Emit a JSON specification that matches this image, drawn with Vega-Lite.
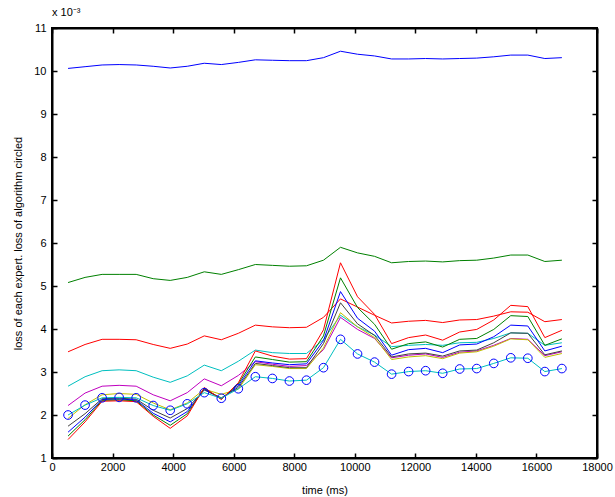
{
  "$schema": "https://vega.github.io/schema/vega-lite/v6.json",
  "width": 545,
  "height": 430,
  "autosize": {"type": "none"},
  "padding": {"left": 52, "top": 28, "right": 18, "bottom": 39},
  "background": "white",
  "title": {"text": "x 10⁻³", "anchor": "start", "frame": "group", "fontSize": 11, "fontWeight": "normal", "font": "Liberation Sans", "color": "black", "offset": 4},
  "config": {
    "view": {"stroke": "#000000", "strokeWidth": 2},
    "axis": {"grid": false, "domain": true, "ticks": true, "domainColor": "#000000", "tickColor": "#000000", "labelColor": "black", "titleColor": "black", "labelFont": "Liberation Sans", "titleFont": "Liberation Sans", "labelFontSize": 11, "titleFontSize": 11, "titleFontWeight": "normal", "tickSize": -5, "domainWidth": 2, "tickWidth": 1.5}
  },
  "datasets": {
    "d": [
      {"t":530,"s":"s01","v":10.06},{"t":1092,"s":"s01","v":10.10},{"t":1655,"s":"s01","v":10.14},{"t":2217,"s":"s01","v":10.15},{"t":2780,"s":"s01","v":10.14},{"t":3342,"s":"s01","v":10.11},{"t":3904,"s":"s01","v":10.07},{"t":4467,"s":"s01","v":10.11},{"t":5029,"s":"s01","v":10.18},{"t":5592,"s":"s01","v":10.15},{"t":6154,"s":"s01","v":10.20},{"t":6716,"s":"s01","v":10.26},{"t":7279,"s":"s01","v":10.25},{"t":7841,"s":"s01","v":10.24},{"t":8404,"s":"s01","v":10.24},{"t":8966,"s":"s01","v":10.31},{"t":9528,"s":"s01","v":10.46},{"t":10091,"s":"s01","v":10.39},{"t":10653,"s":"s01","v":10.35},{"t":11216,"s":"s01","v":10.28},{"t":11778,"s":"s01","v":10.28},{"t":12340,"s":"s01","v":10.29},{"t":12903,"s":"s01","v":10.28},{"t":13465,"s":"s01","v":10.29},{"t":14028,"s":"s01","v":10.30},{"t":14590,"s":"s01","v":10.33},{"t":15152,"s":"s01","v":10.37},{"t":15715,"s":"s01","v":10.37},{"t":16277,"s":"s01","v":10.29},{"t":16840,"s":"s01","v":10.31},
      {"t":530,"s":"s02","v":5.08},{"t":1092,"s":"s02","v":5.20},{"t":1655,"s":"s02","v":5.27},{"t":2217,"s":"s02","v":5.27},{"t":2780,"s":"s02","v":5.27},{"t":3342,"s":"s02","v":5.17},{"t":3904,"s":"s02","v":5.13},{"t":4467,"s":"s02","v":5.20},{"t":5029,"s":"s02","v":5.33},{"t":5592,"s":"s02","v":5.27},{"t":6154,"s":"s02","v":5.38},{"t":6716,"s":"s02","v":5.50},{"t":7279,"s":"s02","v":5.48},{"t":7841,"s":"s02","v":5.46},{"t":8404,"s":"s02","v":5.47},{"t":8966,"s":"s02","v":5.60},{"t":9528,"s":"s02","v":5.90},{"t":10091,"s":"s02","v":5.77},{"t":10653,"s":"s02","v":5.69},{"t":11216,"s":"s02","v":5.54},{"t":11778,"s":"s02","v":5.57},{"t":12340,"s":"s02","v":5.58},{"t":12903,"s":"s02","v":5.56},{"t":13465,"s":"s02","v":5.59},{"t":14028,"s":"s02","v":5.60},{"t":14590,"s":"s02","v":5.65},{"t":15152,"s":"s02","v":5.72},{"t":15715,"s":"s02","v":5.72},{"t":16277,"s":"s02","v":5.57},{"t":16840,"s":"s02","v":5.60},
      {"t":530,"s":"s03","v":3.47},{"t":1092,"s":"s03","v":3.64},{"t":1655,"s":"s03","v":3.76},{"t":2217,"s":"s03","v":3.76},{"t":2780,"s":"s03","v":3.75},{"t":3342,"s":"s03","v":3.64},{"t":3904,"s":"s03","v":3.55},{"t":4467,"s":"s03","v":3.65},{"t":5029,"s":"s03","v":3.84},{"t":5592,"s":"s03","v":3.75},{"t":6154,"s":"s03","v":3.90},{"t":6716,"s":"s03","v":4.09},{"t":7279,"s":"s03","v":4.05},{"t":7841,"s":"s03","v":4.03},{"t":8404,"s":"s03","v":4.04},{"t":8966,"s":"s03","v":4.27},{"t":9528,"s":"s03","v":4.70},{"t":10091,"s":"s03","v":4.51},{"t":10653,"s":"s03","v":4.32},{"t":11216,"s":"s03","v":4.14},{"t":11778,"s":"s03","v":4.18},{"t":12340,"s":"s03","v":4.20},{"t":12903,"s":"s03","v":4.15},{"t":13465,"s":"s03","v":4.21},{"t":14028,"s":"s03","v":4.22},{"t":14590,"s":"s03","v":4.30},{"t":15152,"s":"s03","v":4.40},{"t":15715,"s":"s03","v":4.39},{"t":16277,"s":"s03","v":4.17},{"t":16840,"s":"s03","v":4.22},
      {"t":530,"s":"s04","v":2.67},{"t":1092,"s":"s04","v":2.89},{"t":1655,"s":"s04","v":3.03},{"t":2217,"s":"s04","v":3.05},{"t":2780,"s":"s04","v":3.03},{"t":3342,"s":"s04","v":2.88},{"t":3904,"s":"s04","v":2.76},{"t":4467,"s":"s04","v":2.91},{"t":5029,"s":"s04","v":3.16},{"t":5592,"s":"s04","v":3.03},{"t":6154,"s":"s04","v":3.25},{"t":6716,"s":"s04","v":3.51},{"t":7279,"s":"s04","v":3.45},{"t":7841,"s":"s04","v":3.43},{"t":8404,"s":"s04","v":3.43},{"t":8966,"s":"s04","v":3.75},{"t":9528,"s":"s04","v":4.32},{"t":10091,"s":"s04","v":4.05},{"t":10653,"s":"s04","v":3.86},{"t":11216,"s":"s04","v":3.59},{"t":11778,"s":"s04","v":3.62},{"t":12340,"s":"s04","v":3.64},{"t":12903,"s":"s04","v":3.62},{"t":13465,"s":"s04","v":3.68},{"t":14028,"s":"s04","v":3.69},{"t":14590,"s":"s04","v":3.78},{"t":15152,"s":"s04","v":3.91},{"t":15715,"s":"s04","v":3.90},{"t":16277,"s":"s04","v":3.62},{"t":16840,"s":"s04","v":3.68},
      {"t":530,"s":"s05","v":2.22},{"t":1092,"s":"s05","v":2.51},{"t":1655,"s":"s05","v":2.67},{"t":2217,"s":"s05","v":2.69},{"t":2780,"s":"s05","v":2.67},{"t":3342,"s":"s05","v":2.47},{"t":3904,"s":"s05","v":2.33},{"t":4467,"s":"s05","v":2.52},{"t":5029,"s":"s05","v":2.84},{"t":5592,"s":"s05","v":2.68},{"t":6154,"s":"s05","v":2.92},{"t":6716,"s":"s05","v":3.24},{"t":7279,"s":"s05","v":3.18},{"t":7841,"s":"s05","v":3.13},{"t":8404,"s":"s05","v":3.15},{"t":8966,"s":"s05","v":3.52},{"t":9528,"s":"s05","v":4.27},{"t":10091,"s":"s05","v":3.99},{"t":10653,"s":"s05","v":3.78},{"t":11216,"s":"s05","v":3.33},{"t":11778,"s":"s05","v":3.39},{"t":12340,"s":"s05","v":3.42},{"t":12903,"s":"s05","v":3.34},{"t":13465,"s":"s05","v":3.46},{"t":14028,"s":"s05","v":3.49},{"t":14590,"s":"s05","v":3.62},{"t":15152,"s":"s05","v":3.78},{"t":15715,"s":"s05","v":3.76},{"t":16277,"s":"s05","v":3.38},{"t":16840,"s":"s05","v":3.47},
      {"t":530,"s":"s06","v":1.92},{"t":1092,"s":"s06","v":2.24},{"t":1655,"s":"s06","v":2.47},{"t":2217,"s":"s06","v":2.50},{"t":2780,"s":"s06","v":2.48},{"t":3342,"s":"s06","v":2.28},{"t":3904,"s":"s06","v":2.12},{"t":4467,"s":"s06","v":2.28},{"t":5029,"s":"s06","v":2.60},{"t":5592,"s":"s06","v":2.48},{"t":6154,"s":"s06","v":2.60},{"t":6716,"s":"s06","v":3.17},{"t":7279,"s":"s06","v":3.13},{"t":7841,"s":"s06","v":3.08},{"t":8404,"s":"s06","v":3.08},{"t":8966,"s":"s06","v":3.56},{"t":9528,"s":"s06","v":4.38},{"t":10091,"s":"s06","v":4.05},{"t":10653,"s":"s06","v":3.80},{"t":11216,"s":"s06","v":3.29},{"t":11778,"s":"s06","v":3.35},{"t":12340,"s":"s06","v":3.38},{"t":12903,"s":"s06","v":3.31},{"t":13465,"s":"s06","v":3.44},{"t":14028,"s":"s06","v":3.47},{"t":14590,"s":"s06","v":3.60},{"t":15152,"s":"s06","v":3.77},{"t":15715,"s":"s06","v":3.75},{"t":16277,"s":"s06","v":3.34},{"t":16840,"s":"s06","v":3.43},
      {"t":530,"s":"s07","v":1.74},{"t":1092,"s":"s07","v":2.03},{"t":1655,"s":"s07","v":2.38},{"t":2217,"s":"s07","v":2.39},{"t":2780,"s":"s07","v":2.37},{"t":3342,"s":"s07","v":2.11},{"t":3904,"s":"s07","v":1.93},{"t":4467,"s":"s07","v":2.15},{"t":5029,"s":"s07","v":2.58},{"t":5592,"s":"s07","v":2.40},{"t":6154,"s":"s07","v":2.64},{"t":6716,"s":"s07","v":3.20},{"t":7279,"s":"s07","v":3.15},{"t":7841,"s":"s07","v":3.10},{"t":8404,"s":"s07","v":3.10},{"t":8966,"s":"s07","v":3.66},{"t":9528,"s":"s07","v":4.61},{"t":10091,"s":"s07","v":4.12},{"t":10653,"s":"s07","v":3.85},{"t":11216,"s":"s07","v":3.35},{"t":11778,"s":"s07","v":3.42},{"t":12340,"s":"s07","v":3.44},{"t":12903,"s":"s07","v":3.37},{"t":13465,"s":"s07","v":3.49},{"t":14028,"s":"s07","v":3.51},{"t":14590,"s":"s07","v":3.68},{"t":15152,"s":"s07","v":3.91},{"t":15715,"s":"s07","v":3.90},{"t":16277,"s":"s07","v":3.40},{"t":16840,"s":"s07","v":3.49},
      {"t":530,"s":"s08","v":1.60},{"t":1092,"s":"s08","v":1.95},{"t":1655,"s":"s08","v":2.36},{"t":2217,"s":"s08","v":2.37},{"t":2780,"s":"s08","v":2.35},{"t":3342,"s":"s08","v":2.04},{"t":3904,"s":"s08","v":1.84},{"t":4467,"s":"s08","v":2.08},{"t":5029,"s":"s08","v":2.60},{"t":5592,"s":"s08","v":2.38},{"t":6154,"s":"s08","v":2.68},{"t":6716,"s":"s08","v":3.26},{"t":7279,"s":"s08","v":3.21},{"t":7841,"s":"s08","v":3.17},{"t":8404,"s":"s08","v":3.19},{"t":8966,"s":"s08","v":3.73},{"t":9528,"s":"s08","v":4.87},{"t":10091,"s":"s08","v":4.25},{"t":10653,"s":"s08","v":3.95},{"t":11216,"s":"s08","v":3.39},{"t":11778,"s":"s08","v":3.52},{"t":12340,"s":"s08","v":3.55},{"t":12903,"s":"s08","v":3.45},{"t":13465,"s":"s08","v":3.63},{"t":14028,"s":"s08","v":3.65},{"t":14590,"s":"s08","v":3.82},{"t":15152,"s":"s08","v":4.09},{"t":15715,"s":"s08","v":4.07},{"t":16277,"s":"s08","v":3.49},{"t":16840,"s":"s08","v":3.60},
      {"t":530,"s":"s09","v":1.51},{"t":1092,"s":"s09","v":1.89},{"t":1655,"s":"s09","v":2.34},{"t":2217,"s":"s09","v":2.35},{"t":2780,"s":"s09","v":2.33},{"t":3342,"s":"s09","v":2.00},{"t":3904,"s":"s09","v":1.76},{"t":4467,"s":"s09","v":2.03},{"t":5029,"s":"s09","v":2.62},{"t":5592,"s":"s09","v":2.37},{"t":6154,"s":"s09","v":2.72},{"t":6716,"s":"s09","v":3.35},{"t":7279,"s":"s09","v":3.29},{"t":7841,"s":"s09","v":3.23},{"t":8404,"s":"s09","v":3.24},{"t":8966,"s":"s09","v":3.84},{"t":9528,"s":"s09","v":5.19},{"t":10091,"s":"s09","v":4.50},{"t":10653,"s":"s09","v":4.11},{"t":11216,"s":"s09","v":3.53},{"t":11778,"s":"s09","v":3.66},{"t":12340,"s":"s09","v":3.70},{"t":12903,"s":"s09","v":3.58},{"t":13465,"s":"s09","v":3.76},{"t":14028,"s":"s09","v":3.78},{"t":14590,"s":"s09","v":3.99},{"t":15152,"s":"s09","v":4.31},{"t":15715,"s":"s09","v":4.29},{"t":16277,"s":"s09","v":3.62},{"t":16840,"s":"s09","v":3.77},
      {"t":530,"s":"s10","v":1.43},{"t":1092,"s":"s10","v":1.84},{"t":1655,"s":"s10","v":2.32},{"t":2217,"s":"s10","v":2.33},{"t":2780,"s":"s10","v":2.31},{"t":3342,"s":"s10","v":1.97},{"t":3904,"s":"s10","v":1.69},{"t":4467,"s":"s10","v":1.98},{"t":5029,"s":"s10","v":2.64},{"t":5592,"s":"s10","v":2.36},{"t":6154,"s":"s10","v":2.75},{"t":6716,"s":"s10","v":3.49},{"t":7279,"s":"s10","v":3.37},{"t":7841,"s":"s10","v":3.30},{"t":8404,"s":"s10","v":3.31},{"t":8966,"s":"s10","v":3.98},{"t":9528,"s":"s10","v":5.54},{"t":10091,"s":"s10","v":4.75},{"t":10653,"s":"s10","v":4.34},{"t":11216,"s":"s10","v":3.66},{"t":11778,"s":"s10","v":3.80},{"t":12340,"s":"s10","v":3.86},{"t":12903,"s":"s10","v":3.74},{"t":13465,"s":"s10","v":3.93},{"t":14028,"s":"s10","v":3.99},{"t":14590,"s":"s10","v":4.21},{"t":15152,"s":"s10","v":4.55},{"t":15715,"s":"s10","v":4.52},{"t":16277,"s":"s10","v":3.80},{"t":16840,"s":"s10","v":3.97},
      {"t":530,"s":"alg","v":2.00},{"t":1092,"s":"alg","v":2.23},{"t":1655,"s":"alg","v":2.40},{"t":2217,"s":"alg","v":2.41},{"t":2780,"s":"alg","v":2.40},{"t":3342,"s":"alg","v":2.22},{"t":3904,"s":"alg","v":2.11},{"t":4467,"s":"alg","v":2.26},{"t":5029,"s":"alg","v":2.52},{"t":5592,"s":"alg","v":2.39},{"t":6154,"s":"alg","v":2.61},{"t":6716,"s":"alg","v":2.89},{"t":7279,"s":"alg","v":2.85},{"t":7841,"s":"alg","v":2.79},{"t":8404,"s":"alg","v":2.81},{"t":8966,"s":"alg","v":3.10},{"t":9528,"s":"alg","v":3.76},{"t":10091,"s":"alg","v":3.42},{"t":10653,"s":"alg","v":3.23},{"t":11216,"s":"alg","v":2.95},{"t":11778,"s":"alg","v":3.01},{"t":12340,"s":"alg","v":3.03},{"t":12903,"s":"alg","v":2.97},{"t":13465,"s":"alg","v":3.07},{"t":14028,"s":"alg","v":3.08},{"t":14590,"s":"alg","v":3.20},{"t":15152,"s":"alg","v":3.33},{"t":15715,"s":"alg","v":3.32},{"t":16277,"s":"alg","v":3.01},{"t":16840,"s":"alg","v":3.08}
    ]
  },
  "data": {"name": "d"},
  "layer": [
    {
      "mark": {"type": "line", "strokeWidth": 1, "clip": true},
      "encoding": {
        "x": {"field": "t", "type": "quantitative", "scale": {"domain": [0, 18000], "nice": false, "zero": false},
              "axis": {"orient": "bottom", "values": [0,2000,4000,6000,8000,10000,12000,14000,16000,18000], "format": "d", "labelPadding": 8, "title": "time (ms)", "titlePadding": 12, "labelFlush": false}},
        "y": {"field": "v", "type": "quantitative", "scale": {"domain": [1, 11], "nice": false, "zero": false},
              "axis": {"orient": "left", "values": [1,2,3,4,5,6,7,8,9,10,11], "labelPadding": 11, "title": "loss of each expert. loss of algorithm circled", "titlePadding": 10, "labelFlush": false}},
        "color": {"field": "s", "type": "nominal", "legend": null,
                  "scale": {"domain": ["s01","s02","s03","s04","s05","s06","s07","s08","s09","s10","alg"],
                            "range": ["#0000ff","#008000","#ff0000","#00bfbf","#bf00bf","#bfbf00","#404040","#0000ff","#008000","#ff0000","#00bfbf"]}}
      }
    },
    {
      "transform": [{"filter": "datum.s == 'alg'"}],
      "mark": {"type": "point", "shape": "circle", "filled": false, "stroke": "#0000ff", "strokeWidth": 1, "size": 75, "opacity": 1},
      "encoding": {
        "x": {"field": "t", "type": "quantitative", "axis": {"orient": "top", "values": [0,2000,4000,6000,8000,10000,12000,14000,16000,18000], "labels": false, "title": null}},
        "y": {"field": "v", "type": "quantitative", "axis": {"orient": "right", "values": [1,2,3,4,5,6,7,8,9,10,11], "labels": false, "title": null}}
      }
    }
  ]
}
